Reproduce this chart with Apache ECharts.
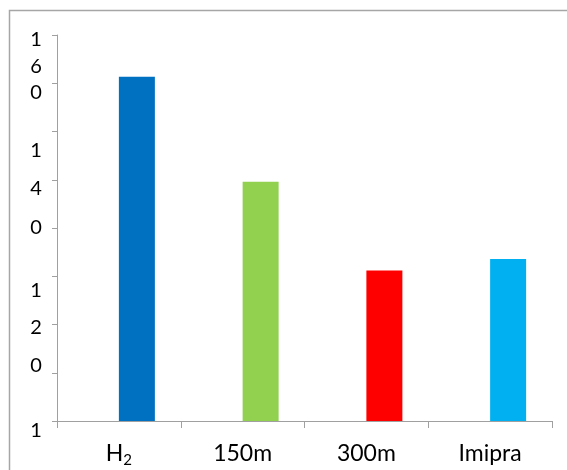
<!DOCTYPE html>
<html>
<head>
<meta charset="utf-8">
<script src="https://cdn.jsdelivr.net/npm/echarts@6/dist/echarts.min.js"></script>
<style>
  html, body { margin: 0; padding: 0; background: #fff; }
  #chart { width: 567px; height: 470px; }
</style>
</head>
<body>
<div id="chart"></div>
<script>
// Categories and bar values
const categories = ['H₂', '150m', '300m', 'Imipra'];
const values = [153.5, 137.2, 123.4, 125.2];
const barColors = ['#0070C0', '#92D050', '#FF0000', '#00B0F0'];

// Value axis: range, tick spacing, wrapped tick labels and where each label block sits
const yMin = 100;
const yMax = 160;
const yTickStep = 7.5;
const yTickLabels = ['160', '140', '120', '100'];
const yLabelAt = [155.1, 136.1, 114.5, 103.5];
const yLabelLineHeights = [26.5, 38.5, 37.5, 64];

// empty slot that sits left of every visible bar
const emptySlot = categories.map(() => null);

const yTicks = [];
for (let v = yMin; v <= yMax + 1e-9; v += yTickStep) yTicks.push(+v.toFixed(4));

const axisGray = '#A0A0A0';
const font = 'Lato, "Open Sans", sans-serif';

// each label is drawn one character per line
function stackedLabel(i) {
  return yTickLabels[i].split('').map(ch => '{r' + i + '|' + ch + '}').join('\n');
}
const labelRich = {};
yLabelLineHeights.forEach((lh, i) => {
  labelRich['r' + i] = { fontSize: 20, lineHeight: lh, color: '#000', fontFamily: font, align: 'center' };
});
function labelIndexFor(value) {
  let best = 0;
  yLabelAt.forEach((v, i) => { if (Math.abs(v - value) < Math.abs(yLabelAt[best] - value)) best = i; });
  return best;
}

const chart = echarts.init(document.getElementById('chart'), null, { renderer: 'canvas' });
chart.setOption({
  animation: false,
  backgroundColor: '#fff',
  textStyle: { fontFamily: font },
  graphic: [{
    type: 'rect',
    shape: { x: 9.5, y: 10.5, width: 600, height: 500 },
    style: { fill: 'none', stroke: '#A6A6A6', lineWidth: 1.5 },
    silent: true
  }],
  grid: { left: 57, right: 15, top: 35, bottom: 49, containLabel: false, outerBoundsMode: 'none' },
  xAxis: {
    type: 'category',
    data: categories,
    axisLine: { show: true, lineStyle: { color: axisGray, width: 1 } },
    axisTick: { show: true, length: 7, alignWithLabel: false, lineStyle: { color: axisGray } },
    axisLabel: {
      margin: 19,
      color: '#000',
      fontSize: 23,
      fontFamily: font,
      interval: 0,
      formatter: name => name.indexOf('₂') >= 0
        ? '{m|' + name.replace('₂', '') + '}{sub|2}'
        : '{m|' + name + '}',
      rich: {
        m: { fontSize: 23, lineHeight: 28, fontFamily: font, color: '#000' },
        sub: { fontSize: 15, lineHeight: 28, fontFamily: font, color: '#000', verticalAlign: 'bottom', padding: [6, 0, 0, 0] }
      }
    },
    splitLine: { show: false }
  },
  yAxis: [{
    type: 'value',
    min: yMin,
    max: yMax,
    position: 'left',
    axisLine: { show: true, lineStyle: { color: axisGray, width: 1 } },
    axisTick: { show: true, length: 5, customValues: yTicks, lineStyle: { color: axisGray } },
    axisLabel: {
      customValues: yLabelAt.slice(0, 3),
      formatter: value => stackedLabel(labelIndexFor(value)),
      rich: labelRich,
      align: 'center',
      verticalAlign: 'middle',
      margin: 21
    },
    splitLine: { show: false }
  }, {
    // bottom label, anchored by its top edge
    type: 'value',
    min: yMin,
    max: yMax,
    position: 'left',
    offset: 0,
    axisLine: { show: false },
    axisTick: { show: false },
    axisLabel: {
      customValues: yLabelAt.slice(3),
      formatter: value => stackedLabel(labelIndexFor(value)),
      rich: labelRich,
      align: 'center',
      verticalAlign: 'top',
      margin: 21
    },
    splitLine: { show: false }
  }],
  series: [{
    type: 'bar',
    name: 'slot',
    data: emptySlot,
    barWidth: 36,
    barGap: '0%'
  }, {
    type: 'bar',
    name: 'value',
    data: values.map((v, i) => ({ value: v, itemStyle: { color: barColors[i] } })),
    barWidth: 36,
    barGap: '0%'
  }]
});
</script>
</body>
</html>
